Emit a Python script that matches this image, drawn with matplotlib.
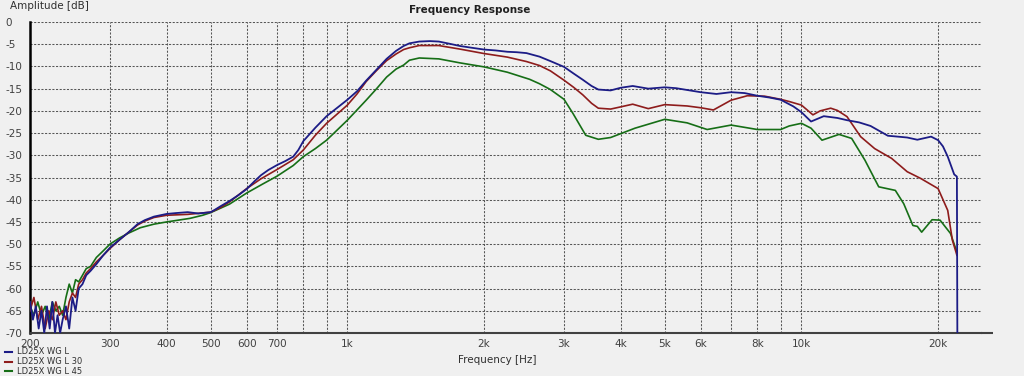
import matplotlib
matplotlib.use("Agg")
import matplotlib.pyplot as plt
from matplotlib.lines import Line2D

# ---------------- data ----------------
series_names = ["LD25X WG L", "LD25X WG L 30", "LD25X WG L 45"]
series_colors = ["#1c1c86", "#8e1c1c", "#166e16"]

freq_L = [200, 203, 206, 209, 212, 215, 218, 221, 224, 227, 230, 233, 236, 240, 244, 248, 252, 256,
          261, 266, 272, 280, 290, 300, 315, 330, 345, 358, 375, 400, 420, 445, 470, 500, 510, 525,
          550, 575, 600, 625, 645, 670, 700, 730, 760, 780, 800, 850, 900, 950, 1000, 1050, 1100,
          1160, 1220, 1280, 1330, 1370, 1440, 1520, 1590, 1680, 1770, 1880, 2000, 2120, 2250, 2360,
          2480, 2650, 2800, 3000, 3150, 3300, 3450, 3570, 3800, 4000, 4250, 4600, 5000, 5300, 5600,
          6000, 6500, 7000, 7500, 8000, 8500, 9000, 9600, 10000, 10500, 11200, 12000, 12600, 13400,
          14200, 15500, 16300, 17100, 18000, 19300, 20000, 20500, 21000, 21700, 22000, 22050]
db_L = [-63, -67, -64, -69, -65, -70, -64, -69, -63, -70, -66, -70, -67, -64, -69, -62, -65, -60,
        -59, -57, -56, -54.5, -52.5, -50.8, -49, -47.3, -45.5, -44.6, -43.8, -43.2, -43, -42.8, -43.1,
        -42.8, -42.3, -41.5, -40.3, -39, -37.6, -35.8, -34.5, -33.3, -32.2, -31.3, -30.3, -28.8,
        -26.8, -23.8, -21.2, -19.3, -17.5, -15.6, -13.2, -10.7, -8.3, -6.5, -5.4, -4.8, -4.4, -4.3,
        -4.4, -4.9, -5.4, -5.8, -6.2, -6.4, -6.7, -6.8, -7.0, -7.8, -8.8, -10.1, -11.6, -13.0, -14.4,
        -15.2, -15.4, -14.8, -14.4, -15.0, -14.7, -14.9, -15.3, -15.8, -16.2, -15.8, -16.0, -16.6,
        -17.0, -17.5, -19.0, -20.3, -22.4, -21.2, -21.6, -22.1, -22.6, -23.4, -25.6, -25.8, -26.0,
        -26.5, -25.8, -26.6, -28.0, -30.3, -34.3, -34.8, -70]

freq_L30 = [200, 204, 208, 212, 216, 220, 224, 228, 232, 236, 240, 244, 248, 252, 256, 261, 266, 272,
            280, 290, 300, 315, 330, 345, 358, 375, 400, 445, 500, 525, 550, 600, 645, 700, 760, 800,
            850, 900, 950, 1000, 1050, 1100, 1160, 1220, 1280, 1330, 1370, 1440, 1590, 1770, 2000,
            2250, 2480, 2650, 2800, 3000, 3150, 3300, 3450, 3570, 3800, 4000, 4250, 4600, 5000, 5600,
            6000, 6400, 7000, 7600, 8300, 9000, 9400, 10000, 10600, 11000, 11600, 12000, 12600,
            13500, 14500, 15800, 17100, 18300, 20000, 21000, 21500, 21900, 22000]
db_L30 = [-65, -62, -67, -64, -69, -65, -67, -63, -66, -65, -67, -63, -61, -62, -59, -58, -56.5, -55.5,
          -54, -52.5, -51, -49, -47.3, -45.7, -44.8, -44, -43.5, -43.3, -42.8, -41.8, -40.5, -37.5,
          -35.3, -33.2, -31, -28.8, -25.5, -22.8, -20.7, -18.7, -16.2, -13.4, -10.9, -8.7, -7.2, -6.2,
          -5.8, -5.3, -5.3, -6.1, -7.1, -7.9, -8.9, -9.8, -11, -13.1, -14.7, -16.4, -18.3, -19.4,
          -19.6, -19.1, -18.5, -19.5, -18.6, -18.9, -19.3, -19.8, -17.6, -16.6, -16.7, -17.4, -17.9,
          -18.7, -20.9, -20.0, -19.4, -19.9, -21.3, -25.8, -28.5, -30.7, -33.7, -35.2, -37.5, -42.4,
          -49.1, -51.8, -52.5]

freq_L45 = [200, 204, 208, 212, 216, 220, 224, 228, 232, 236, 240, 244, 248, 252, 256, 261, 266, 272,
            280, 290, 300, 315, 330, 350, 375, 400, 450, 480, 500, 550, 600, 650, 700, 760, 800, 850,
            900, 950, 1000, 1050, 1100, 1160, 1220, 1280, 1330, 1370, 1440, 1590, 1770, 2000, 2250,
            2520, 2650, 2800, 3000, 3140, 3350, 3570, 3800, 4300, 5000, 5600, 6200, 7000, 8000, 9000,
            9400, 10000, 10500, 11100, 12100, 12900, 13800, 14800, 16100, 16800, 17600, 18000, 18400,
            19400, 20200, 21300, 22000]
db_L45 = [-64, -66, -63, -66, -64, -67, -63, -65, -64, -66, -62, -59, -61, -58, -58.5, -57, -55.5, -55,
          -53, -51.5, -50, -48.6, -47.5, -46.3, -45.5, -45, -44.2, -43.5, -42.9, -41, -38.5, -36.5,
          -34.7, -32.3, -30.3, -28.5, -26.6, -24.3, -22.1, -19.8, -17.6, -15, -12.4, -10.6, -9.7,
          -8.6, -8.1, -8.3, -9.2, -10.1, -11.3, -12.9, -13.9, -15.2, -17.4, -20.6, -25.5, -26.4, -26,
          -23.9, -21.9, -22.7, -24.2, -23.2, -24.2, -24.2, -23.4, -22.8, -23.9, -26.6, -25.3, -26.2,
          -31.1, -37.1, -37.9, -40.9, -45.8, -46, -47.3, -44.5, -44.6, -47.6, -51.8]

x_ticks = [200, 300, 400, 500, 600, 700, 1000, 2000, 3000, 4000, 5000, 6000, 8000, 10000, 20000]
x_tick_labels = ["200", "300", "400", "500", "600", "700", "1k", "2k", "3k", "4k", "5k", "6k", "8k",
                 "10k", "20k"]
x_grid = [300, 400, 500, 600, 700, 800, 900, 1000, 2000, 3000, 4000, 5000, 6000, 7000, 8000, 9000,
          10000, 20000]
y_ticks = [0, -5, -10, -15, -20, -25, -30, -35, -40, -45, -50, -55, -60, -65, -70]

# ---------------- figure ----------------
W, H = 1024, 376
bg = "#f0f0f0"
fig = plt.figure(figsize=(W / 100, H / 100), dpi=100, facecolor=bg)
ax_left, ax_right, ax_top, ax_bottom = 30, 981, 22, 333
ax = fig.add_axes([ax_left / W, 1 - ax_bottom / H, (ax_right - ax_left) / W, (ax_bottom - ax_top) / H])
ax.set_facecolor(bg)
ax.set_xscale("log")
ax.set_xlim(200, 24860)
ax.set_ylim(-70, 0)

grid_kw = dict(color="#555555", lw=0.75, dashes=(2, 1.5), zorder=1)
for g in x_grid:
    ax.axvline(g, **grid_kw)
for yv in y_ticks[:-1]:
    ax.axhline(yv, **grid_kw)

# draw back-to-front: green, red, blue
ax.plot(freq_L45, db_L45, color=series_colors[2], lw=1.2, zorder=3)
ax.plot(freq_L30, db_L30, color=series_colors[1], lw=1.2, zorder=4)
ax.plot(freq_L, db_L, color=series_colors[0], lw=1.3, zorder=5)

for s in ["top", "right"]:
    ax.spines[s].set_visible(False)
ax.spines["left"].set_color("black")
ax.spines["left"].set_linewidth(1.8)
ax.spines["bottom"].set_color("#404040")
ax.spines["bottom"].set_linewidth(1.5)
ax.plot([1, (993 - ax_left) / (ax_right - ax_left)], [0, 0], transform=ax.transAxes,
        color="#404040", lw=1.5, clip_on=False, solid_capstyle="butt")

ax.set_xticks(x_ticks)
ax.set_xticklabels(x_tick_labels)
ax.minorticks_off()
ax.set_yticks(y_ticks)
ax.set_yticklabels([str(v) for v in y_ticks])
ax.tick_params(axis="both", length=0, labelsize=7.5, labelcolor="#404040")
ax.tick_params(axis="x", pad=4.5)
for lbl in ax.get_yticklabels():
    lbl.set_horizontalalignment("left")
ax.tick_params(axis="y", pad=18)

fig.text(470 / W, 1 - 10 / H, "Frequency Response", ha="center", va="center",
         fontsize=7.5, fontweight="bold", color="#202020")
fig.text(10 / W, 1 - 6 / H, "Amplitude [dB]", ha="left", va="center", fontsize=7.5, color="#303030")
fig.text(497 / W, 1 - 360 / H, "Frequency [Hz]", ha="center", va="center", fontsize=7.5, color="#303030")

# legend (manual positions to match the reference)
for i, (name, col) in enumerate(zip(series_names, series_colors)):
    yy = 1 - (352 + i * 9.5) / H
    fig.add_artist(Line2D([5 / W, 12 / W], [yy, yy], color=col, lw=1.5))
    fig.text(17 / W, yy, name, ha="left", va="center", fontsize=6, color="#303030")

fig.savefig("out.png", dpi=100, facecolor=bg)
